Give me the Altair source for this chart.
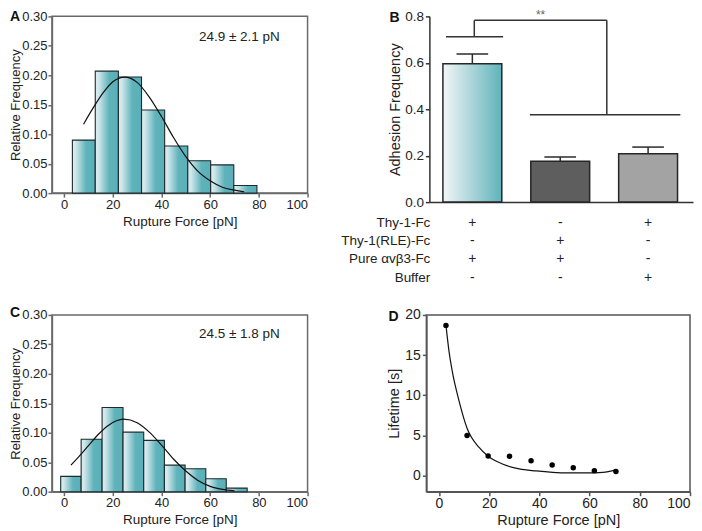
import altair as alt
import pandas as pd

FONT = "Liberation Sans"
TEAL = "#5fb3bb"
FRAME = "#6a6a6a"
INK = "#222222"

# ---------------- Panel A : rupture-force histogram ----------------
A_bin_left = [3.4, 12.8, 22.3, 31.8, 41.3, 50.8, 60.2, 69.7]
A_bin_right = [12.8, 22.3, 31.8, 41.3, 50.8, 60.2, 69.7, 79.2]
A_freq = [0.090, 0.207, 0.197, 0.141, 0.080, 0.055, 0.048, 0.013]
A_fit_x = [8, 12, 16, 20, 24.9, 30, 35, 40, 45, 50, 55, 60, 65, 70, 74]
A_fit_y = [0.117, 0.145, 0.170, 0.189, 0.197, 0.188, 0.163, 0.130, 0.094, 0.062,
           0.037, 0.021, 0.010, 0.005, 0.002]
A_stat = "24.9 ± 2.1 pN"

# ---------------- Panel C : rupture-force histogram ----------------
C_bin_left = [-1.4, 7.0, 15.6, 24.2, 32.7, 41.2, 49.7, 58.2, 66.6]
C_bin_right = [7.0, 15.6, 24.2, 32.7, 41.2, 49.7, 58.2, 66.6, 75.2]
C_freq = [0.026, 0.089, 0.143, 0.101, 0.087, 0.045, 0.039, 0.022, 0.006]
C_fit_x = [2.8, 6, 10, 14, 18, 24.5, 30, 35, 40, 45, 50, 55, 60, 65, 70]
C_fit_y = [0.045, 0.059, 0.078, 0.097, 0.112, 0.123, 0.117, 0.101, 0.079, 0.055,
           0.035, 0.019, 0.009, 0.004, 0.0015]
C_stat = "24.5 ± 1.8 pN"

# ---------------- Panel B : adhesion frequency ----------------
B_pos = [1, 2, 3]
B_mean = [0.596, 0.176, 0.208]
B_err = [0.042, 0.018, 0.029]
B_rows = ["Thy-1-Fc", "Thy-1(RLE)-Fc", "Pure αvβ3-Fc", "Buffer"]
B_signs = [["+", "-", "+"],
           ["-", "+", "-"],
           ["+", "+", "-"],
           ["-", "-", "+"]]
# significance bracket segments (x, x2, y, y2)
BR_x = [0.70, 1.022, 1.022, 2.530, 1.655]
BR_x2 = [1.35, 1.022, 2.530, 2.530, 3.367]
BR_y = [0.7125, 0.7125, 0.783, 0.783, 0.376]
BR_y2 = [0.7125, 0.783, 0.783, 0.376, 0.376]
BR_star = "**"

# ---------------- Panel D : lifetime vs force ----------------
D_x = [2.8, 11.2, 19.6, 28.1, 36.7, 45.1, 53.5, 61.9, 70.5]
D_y = [18.7, 5.0, 2.44, 2.4, 1.86, 1.32, 0.99, 0.62, 0.5]
D_fit_x = [2.8, 4, 5.3, 8, 11.2, 16, 19.6, 25.3, 32, 38.7, 45.3, 52, 58.7, 65.3, 70.5]
D_fit_y = [18.7, 15.5, 13.0, 9.3, 5.9, 3.5, 2.4, 1.45, 0.83, 0.58, 0.41, 0.34, 0.33, 0.41, 0.72]

HIST_GRAD = alt.LinearGradient(
    gradient="linear", x1=0, x2=1, y1=0, y2=0,
    stops=[alt.GradientStop(offset=0, color="#dcedf0"),
           alt.GradientStop(offset=0.15, color="#cfe6ea"),
           alt.GradientStop(offset=0.6, color=TEAL),
           alt.GradientStop(offset=1, color="#5aafb8")])
B_GRAD = alt.LinearGradient(
    gradient="linear", x1=0, x2=1, y1=0, y2=0,
    stops=[alt.GradientStop(offset=0, color="#f3f6f7"),
           alt.GradientStop(offset=1, color=TEAL)])


def axis(title, values, fmt=None, lsize=13, tsize=13.5, color=FRAME, tpad=3, lpad=1, **kw):
    args = dict(values=values, title=title, grid=False, labelFontSize=lsize, titleFontSize=tsize,
                labelFont=FONT, titleFont=FONT, titleFontWeight="normal", labelColor=INK,
                titleColor=INK, tickSize=4, tickWidth=1.5, tickColor=color, domainColor=color,
                domainWidth=1.5, labelPadding=lpad, titlePadding=tpad)
    if fmt:
        args["format"] = fmt
    args.update(kw)
    return alt.Axis(**args)


def letter(ch, dx, dy):
    return alt.Chart(pd.DataFrame({"t": [ch]})).mark_text(
        font=FONT, fontSize=14, fontWeight="bold", align="left", baseline="top",
        color="#111111").encode(x=alt.value(dx), y=alt.value(dy), text="t:N")


def hist_panel(left, right, freq, fit_x, fit_y, stat, stat_y, ch, ch_dy):
    xs = alt.Scale(domain=[-5, 100], nice=False, zero=False)
    ys = alt.Scale(domain=[0, 0.30], nice=False, zero=False)
    xax = axis("Rupture Force [pN]", [0, 20, 40, 60, 80, 100], lpad=1, tpad=3)
    yax = axis("Relative Frequency", [0, 0.05, 0.10, 0.15, 0.20, 0.25, 0.30], ".2f",
               tsize=13, lpad=1, tpad=-1)

    def X(f):
        return alt.X(f, type="quantitative", scale=xs, axis=xax)

    def Y(f):
        return alt.Y(f, type="quantitative", scale=ys, axis=yax)

    bars = alt.Chart(pd.DataFrame({"l": left, "r": right, "f": freq})).transform_calculate(
        z="0").mark_bar(color=HIST_GRAD, stroke="#1d2b2e", strokeWidth=1.1).encode(
        x=X("l"), x2="r:Q", y=Y("f"), y2="z:Q")
    fit = alt.Chart(pd.DataFrame({"x": fit_x, "y": fit_y})).mark_line(
        color="#111111", strokeWidth=1.2, interpolate="monotone").encode(x=X("x"), y=Y("y"))
    txt = alt.Chart(pd.DataFrame({"x": [72], "y": [stat_y], "t": [stat]})).mark_text(
        font=FONT, fontSize=13.5, color=INK).encode(x=X("x"), y=Y("y"), text="t:N")
    return alt.layer(bars, fit, txt, letter(ch, -42, ch_dy)).properties(
        width=256, height=177, view=alt.ViewBackground(stroke=FRAME, strokeWidth=1.5))


A = hist_panel(A_bin_left, A_bin_right, A_freq, A_fit_x, A_fit_y, A_stat, 0.265, "A", -6)
C = hist_panel(C_bin_left, C_bin_right, C_freq, C_fit_x, C_fit_y, C_stat, 0.267, "C", -9)

# ---- Panel B ----
bxs = alt.Scale(domain=[0.511, 3.511], nice=False, zero=False)
bys = alt.Scale(domain=[0, 0.8], nice=False, zero=False)
bxax = alt.Axis(labels=False, ticks=False, title=None, grid=False, domainColor="#333333",
                domainWidth=1.5)
byax = axis("Adhesion Frequency", [0, 0.2, 0.4, 0.6, 0.8], ".1f", lsize=13.5, tsize=14.5,
            color="#333333", tpad=2, lpad=2)


def BX(f):
    return alt.X(f, type="quantitative", scale=bxs, axis=bxax)


def BY(f):
    return alt.Y(f, type="quantitative", scale=bys, axis=byax)


B_df = pd.DataFrame({"pos": B_pos, "mean": B_mean, "err": B_err})
bbase = alt.Chart(B_df).transform_calculate(
    l="datum.pos - 0.335", r="datum.pos + 0.335", z="0", top="datum.mean + datum.err",
    cl="datum.pos - 0.18", cr="datum.pos + 0.18")
b1 = bbase.transform_filter("datum.pos == 1").mark_bar(
    color=B_GRAD, stroke="#262626", strokeWidth=1.5).encode(
    x=BX("l"), x2="r:Q", y=BY("mean"), y2="z:Q")
b23 = bbase.transform_filter("datum.pos > 1").mark_bar(
    stroke="#262626", strokeWidth=1.5).encode(
    x=BX("l"), x2="r:Q", y=BY("mean"), y2="z:Q",
    color=alt.Color("pos:O", scale=alt.Scale(domain=[2, 3], range=["#5e5e5e", "#a3a3a3"]),
                    legend=None))
ebar = bbase.mark_rule(color="#2b2b2b", strokeWidth=1.5).encode(
    x=BX("pos"), y=BY("mean"), y2="top:Q")
ecap = bbase.mark_rule(color="#2b2b2b", strokeWidth=1.5).encode(
    x=BX("cl"), x2="cr:Q", y=BY("top"))
brk = alt.Chart(pd.DataFrame({"x": BR_x, "x2": BR_x2, "y": BR_y, "y2": BR_y2})).mark_rule(
    color="#333333", strokeWidth=1.5).encode(x=BX("x"), x2="x2:Q", y=BY("y"), y2="y2:Q")
star = alt.Chart(pd.DataFrame({"x": [1.776], "t": [BR_star]})).mark_text(
    font=FONT, fontSize=12, color="#666666", baseline="top").encode(
    x=BX("x"), y=alt.value(-6), text="t:N")

rows_df = pd.DataFrame({"label": B_rows, "idx": list(range(len(B_rows)))})
rows = alt.Chart(rows_df).transform_calculate(
    ry="-0.088 - datum.idx * 0.0795", rx="0.522").mark_text(
    font=FONT, fontSize=13.5, color=INK, align="right", baseline="middle").encode(
    x=BX("rx"), y=BY("ry"), text="label:N")
sign_records = []
for i, row in enumerate(B_signs):
    for j, s in enumerate(row):
        sign_records.append({"idx": i, "pos": B_pos[j], "s": s})
signs = alt.Chart(pd.DataFrame(sign_records)).transform_calculate(
    ry="-0.088 - datum.idx * 0.0795").mark_text(
    font=FONT, fontSize=14, color=INK, align="center", baseline="middle").encode(
    x=BX("pos"), y=BY("ry"), text="s:N")

B = alt.layer(b1, b23, ebar, ecap, brk, star, rows, signs, letter("B", -40, -5)).properties(
    width=264, height=186, view=alt.ViewBackground(stroke="transparent"))

# ---- Panel D ----
dxs = alt.Scale(domain=[-5, 100], nice=False, zero=False)
dys = alt.Scale(domain=[-2, 20], nice=False, zero=False)
dxax = axis("Rupture Force [pN]", [0, 20, 40, 60, 80, 100], lsize=14, tsize=14.5,
            color="#555555", lpad=1, tpad=3)
dyax = axis("Lifetime [s]", [0, 5, 10, 15, 20], lsize=14, tsize=14.5,
            color="#555555", lpad=2, tpad=3)


def DX(f):
    return alt.X(f, type="quantitative", scale=dxs, axis=dxax)


def DY(f):
    return alt.Y(f, type="quantitative", scale=dys, axis=dyax)


dfit = alt.Chart(pd.DataFrame({"x": D_fit_x, "y": D_fit_y})).mark_line(
    color="#111111", strokeWidth=1.2, interpolate="monotone").encode(x=DX("x"), y=DY("y"))
dpts = alt.Chart(pd.DataFrame({"x": D_x, "y": D_y})).mark_circle(
    size=30, color="#000000", opacity=1).encode(x=DX("x"), y=DY("y"))
D = alt.layer(dfit, dpts, letter("D", -38, -5)).properties(
    width=264, height=177, view=alt.ViewBackground(stroke="#555555", strokeWidth=1.5))

row1 = alt.hconcat(A, B, spacing=122, bounds="flush")
row2 = alt.hconcat(C, D, spacing=119, bounds="flush")
chart = alt.vconcat(row1, row2, spacing=299, bounds="flush").properties(
    padding={"left": 0, "top": 0, "right": 0, "bottom": 0}
).configure(font=FONT)

chart.save("out.html", embed_options={"renderer": "svg", "actions": False})
